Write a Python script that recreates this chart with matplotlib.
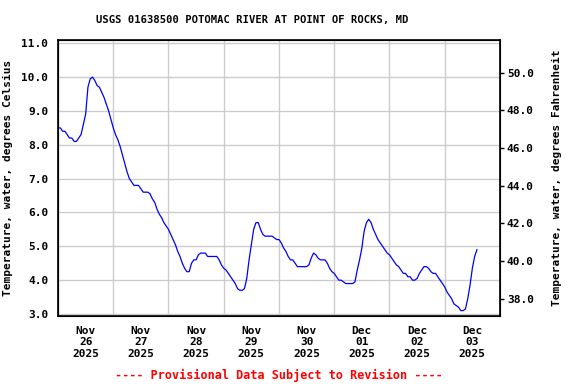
import numpy as np
import matplotlib
matplotlib.use("Agg")
import matplotlib.pyplot as plt
import matplotlib.dates as mdates
from datetime import datetime, timedelta

# Hourly water temperature readings (deg C)
nov26 = [8.5, 8.5, 8.4, 8.4, 8.3, 8.2, 8.2, 8.1, 8.1, 8.2, 8.3, 8.6,
         8.9, 9.7, 9.95, 10.0, 9.9, 9.75, 9.7, 9.55, 9.4, 9.2, 9.0, 8.75]
nov27 = [8.5, 8.3, 8.15, 7.95, 7.7, 7.45, 7.2, 7.0, 6.9, 6.8, 6.8, 6.8,
         6.7, 6.6, 6.6, 6.6, 6.55, 6.4, 6.3, 6.1, 5.95, 5.85, 5.7, 5.6]
nov28 = [5.5, 5.35, 5.2, 5.05, 4.85, 4.7, 4.5, 4.35, 4.25, 4.25, 4.5, 4.6,
         4.6, 4.75, 4.8, 4.8, 4.8, 4.7, 4.7, 4.7, 4.7, 4.7, 4.6, 4.45]
nov29 = [4.35, 4.3, 4.2, 4.1, 4.0, 3.9, 3.75, 3.7, 3.7, 3.75, 4.05, 4.6,
         5.05, 5.5, 5.7, 5.7, 5.5, 5.35, 5.3, 5.3, 5.3, 5.3, 5.25, 5.2]
nov30 = [5.2, 5.1, 4.95, 4.85, 4.7, 4.6, 4.6, 4.5, 4.4, 4.4, 4.4, 4.4,
         4.4, 4.45, 4.65, 4.8, 4.75, 4.65, 4.6, 4.6, 4.6, 4.5, 4.35, 4.25]
dec01 = [4.2, 4.1, 4.0, 4.0, 3.95, 3.9, 3.9, 3.9, 3.9, 3.95, 4.3, 4.6,
         4.95, 5.45, 5.7, 5.8, 5.7, 5.5, 5.35, 5.2, 5.1, 5.0, 4.9, 4.8]
dec02 = [4.75, 4.65, 4.55, 4.45, 4.4, 4.3, 4.2, 4.2, 4.1, 4.1, 4.0, 4.0,
         4.05, 4.2, 4.3, 4.4, 4.4, 4.35, 4.25, 4.2, 4.2, 4.1, 4.0, 3.9]
dec03 = [3.8, 3.65, 3.55, 3.45, 3.3, 3.25, 3.2, 3.1, 3.1, 3.15, 3.45, 3.85,
         4.35, 4.7, 4.9]

temp_c = nov26 + nov27 + nov28 + nov29 + nov30 + dec01 + dec02 + dec03
start = datetime(2025, 11, 26)
times = [start + timedelta(hours=i) for i in range(len(temp_c))]

c_ticks = [3.0, 4.0, 5.0, 6.0, 7.0, 8.0, 9.0, 10.0, 11.0]
f_ticks = [38.0, 40.0, 42.0, 44.0, 46.0, 48.0, 50.0]

title = "USGS 01638500 POTOMAC RIVER AT POINT OF ROCKS, MD"
left_label = "Temperature, water, degrees Celsius"
right_label = "Temperature, water, degrees Fahrenheit"
note = "---- Provisional Data Subject to Revision ----"

font = dict(family="DejaVu Sans Mono", weight="bold", size=8)

fig = plt.figure(figsize=(5.76, 3.84), dpi=100)
ax = fig.add_axes([0.1007, 0.177, 0.7673, 0.72])

ax.plot(times, temp_c, color="#0000ff", lw=0.9)

ax.set_xlim(start, start + timedelta(days=8))
ax.set_ylim(2.94, 11.11)
ax.set_yticks(c_ticks)
ax.set_yticklabels([f"{v:.1f}" for v in c_ticks], **font)
ax.tick_params(axis="y", length=0, pad=7)

# midnight gridlines, labels at noon
ax.xaxis.set_major_locator(mdates.DayLocator())
ax.xaxis.set_major_formatter(plt.NullFormatter())
ax.xaxis.set_minor_locator(mdates.HourLocator(byhour=[12]))
ax.xaxis.set_minor_formatter(mdates.DateFormatter("%b\n%d\n%Y"))
ax.tick_params(axis="x", which="both", length=0)
ax.tick_params(axis="x", which="minor", pad=7)
for lab in ax.get_xticklabels(minor=True):
    lab.set_fontfamily("DejaVu Sans Mono")
    lab.set_fontweight("bold")
    lab.set_fontsize(8)
    lab.set_linespacing(1.2)

ax.grid(True, which="major", color="#cccccc", lw=1.0)
ax.set_axisbelow(True)
for s in ax.spines.values():
    s.set_linewidth(1.2)

ax.set_ylabel(left_label, labelpad=6, **font)

ax2 = ax.twinx()
ax2.set_ylim(37.07, 51.77)
ax2.set_yticks(f_ticks)
ax2.set_yticklabels([f"{v:.1f}" for v in f_ticks], **font)
ax2.tick_params(axis="y", length=3, width=1, pad=2)
ax2.set_ylabel(right_label, labelpad=13, **font)

fig.text(0.4375, 0.948, title, ha="center", va="center",
         family="DejaVu Sans Mono", weight="bold", size=7.6)
fig.text(0.4844, 0.023, note, ha="center", va="center", color="red",
         family="DejaVu Sans Mono", weight="bold", size=8.5)

fig.savefig("out.png", dpi=100)
